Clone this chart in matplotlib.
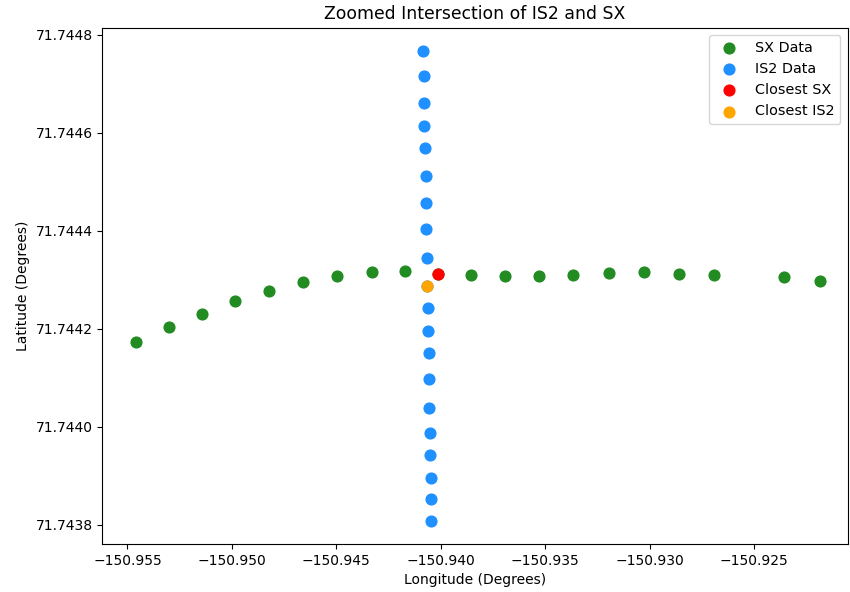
import matplotlib.pyplot as plt

# SX track (longitude, latitude)
sx_lon = [-150.95458, -150.95302, -150.95143, -150.94986, -150.94822, -150.94659,
          -150.94497, -150.94329, -150.94171, -150.94013, -150.93857, -150.93693,
          -150.93530, -150.93368, -150.93195, -150.93026, -150.92860, -150.92693,
          -150.92357, -150.92184]
sx_lat = [71.744173, 71.744203, 71.744230, 71.744257, 71.744278, 71.744295,
          71.744308, 71.744316, 71.744318, 71.744312, 71.744310, 71.744308,
          71.744308, 71.744310, 71.744314, 71.744316, 71.744312, 71.744310,
          71.744306, 71.744297]

# IS2 track
is2_lon = [-150.94084, -150.94082, -150.94082, -150.94079, -150.94077, -150.94072,
           -150.94072, -150.94072, -150.94067, -150.94067, -150.94061, -150.94061,
           -150.94058, -150.94055, -150.94055, -150.94052, -150.94052, -150.94048,
           -150.94048, -150.94048]
is2_lat = [71.744766, 71.744716, 71.744661, 71.744613, 71.744569, 71.744512,
           71.744456, 71.744403, 71.744344, 71.744287, 71.744242, 71.744195,
           71.744150, 71.744098, 71.744039, 71.743988, 71.743943, 71.743895,
           71.743853, 71.743809]

# closest points
closest_sx = (-150.94013, 71.744312)
closest_is2 = (-150.94067, 71.744287)

# zoom window (longitude)
lon_lim = (-150.95620, -150.92053)

fig, ax = plt.subplots(figsize=(8.5, 5.92), dpi=100)
plt.subplots_adjust(left=0.1204, right=0.9973, top=0.953, bottom=0.081)

ax.scatter(sx_lon, sx_lat, c='forestgreen', s=60, label='SX Data')
ax.scatter(is2_lon, is2_lat, c='dodgerblue', s=60, label='IS2 Data')
ax.scatter(closest_sx[0], closest_sx[1], c='red', s=60, label='Closest SX')
ax.scatter(closest_is2[0], closest_is2[1], c='orange', s=60, label='Closest IS2')

ax.set_xlim(lon_lim)
ax.ticklabel_format(useOffset=False)
ax.set_xlabel('Longitude (Degrees)')
ax.set_ylabel('Latitude (Degrees)')
ax.set_title('Zoomed Intersection of IS2 and SX', fontsize=12.4)
ax.legend(loc='upper right', fontsize=10.4)

plt.savefig('out.png')
